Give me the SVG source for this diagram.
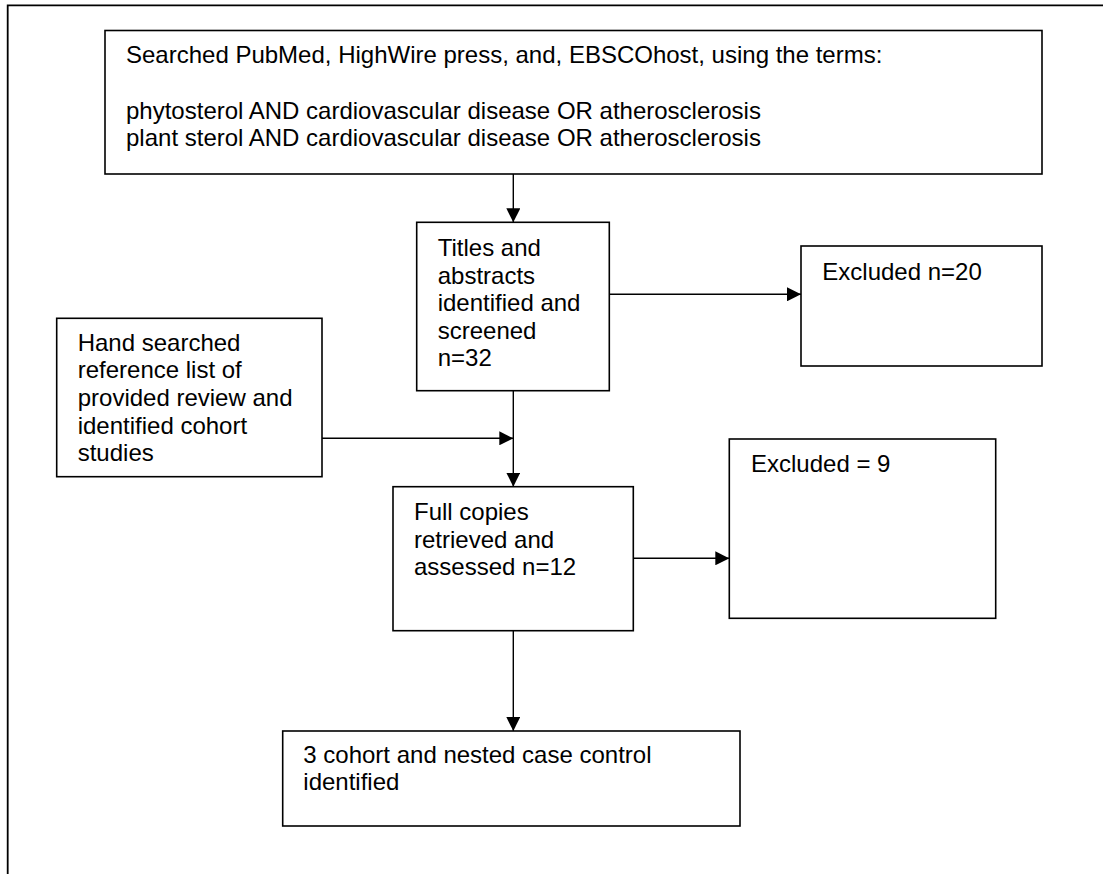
<svg xmlns="http://www.w3.org/2000/svg" width="1103" height="874" viewBox="0 0 1103 874">
<style>
.box{fill:#fff;stroke:#000;stroke-width:1.6}
.t{font-family:"Liberation Sans",Arial,sans-serif;font-size:24px;fill:#000}
.c{fill:none;stroke:#000;stroke-width:1.4}
.frame{fill:none;stroke:#000;stroke-width:1.8}
</style>
<defs>
<marker id="ah" markerWidth="14" markerHeight="14" viewBox="0 0 14 14" refX="14" refY="7" orient="auto" markerUnits="userSpaceOnUse">
<path d="M0,0 L14,7 L0,14 Z" fill="#000"/>
</marker>
</defs>
<rect width="1103" height="874" fill="#fff"/>
<path class="frame" d="M7.7,874 V5.3 H1103"/>
<g id="search">
<rect class="box" x="105" y="30.5" width="937" height="143.5"/>
<text class="t" x="126" y="63.3">Searched PubMed, HighWire press, and, EBSCOhost, using the terms:</text>
<text class="t" x="126" y="118.5">phytosterol AND cardiovascular disease OR atherosclerosis</text>
<text class="t" x="126" y="146.1">plant sterol AND cardiovascular disease OR atherosclerosis</text>
</g>
<g id="titles">
<rect class="box" x="416.7" y="222.3" width="192.6" height="168.4"/>
<text class="t" x="437.7" y="256">Titles and</text>
<text class="t" x="437.7" y="283.6">abstracts</text>
<text class="t" x="437.7" y="311.2">identified and</text>
<text class="t" x="437.7" y="338.8">screened</text>
<text class="t" x="437.7" y="366.4">n=32</text>
</g>
<g id="excluded20">
<rect class="box" x="801" y="246" width="241" height="120"/>
<text class="t" x="822.3" y="280">Excluded n=20</text>
</g>
<g id="hand">
<rect class="box" x="56.7" y="318.3" width="265.3" height="158.4"/>
<text class="t" x="77.7" y="350.7">Hand searched</text>
<text class="t" x="77.7" y="378.3">reference list of</text>
<text class="t" x="77.7" y="405.9">provided review and</text>
<text class="t" x="77.7" y="433.5">identified cohort</text>
<text class="t" x="77.7" y="461.1">studies</text>
</g>
<g id="fullcopies">
<rect class="box" x="393" y="486.7" width="240.3" height="144"/>
<text class="t" x="414" y="520">Full copies</text>
<text class="t" x="414" y="547.6">retrieved and</text>
<text class="t" x="414" y="575.2">assessed n=12</text>
</g>
<g id="excluded9">
<rect class="box" x="729.3" y="439" width="266.4" height="179.3"/>
<text class="t" x="751" y="471.7">Excluded = 9</text>
</g>
<g id="final">
<rect class="box" x="282.7" y="731" width="457.3" height="95"/>
<text class="t" x="303.3" y="762.7">3 cohort and nested case control</text>
<text class="t" x="303.3" y="790.3">identified</text>
</g>
<g id="connectors">
<line class="c" x1="513.3" y1="174" x2="513.3" y2="222.3" marker-end="url(#ah)"/>
<line class="c" x1="609.3" y1="294.3" x2="801" y2="294.3" marker-end="url(#ah)"/>
<line class="c" x1="513.3" y1="390.7" x2="513.3" y2="486.7" marker-end="url(#ah)"/>
<line class="c" x1="322" y1="438.3" x2="513.3" y2="438.3" marker-end="url(#ah)"/>
<line class="c" x1="633.3" y1="558.3" x2="729.3" y2="558.3" marker-end="url(#ah)"/>
<line class="c" x1="513.3" y1="630.7" x2="513.3" y2="731" marker-end="url(#ah)"/>
</g>
</svg>
